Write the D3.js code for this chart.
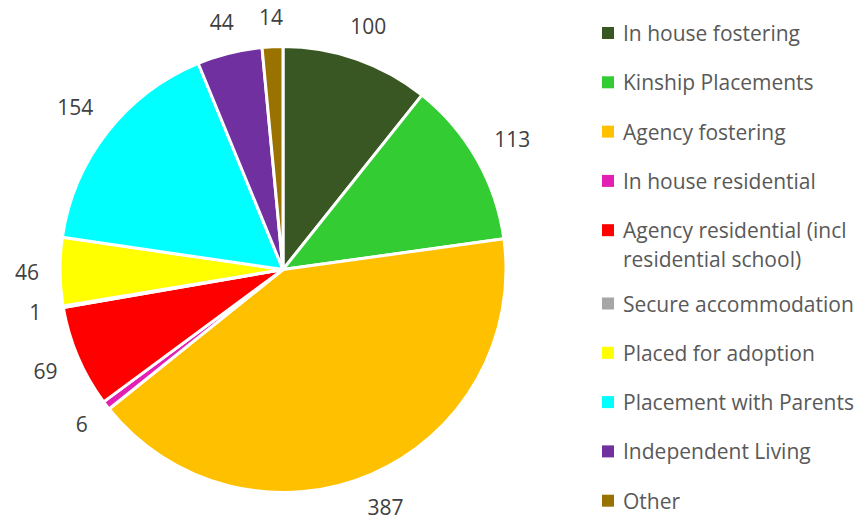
<!DOCTYPE html>
<html>
<head>
<meta charset="utf-8">
<script src="https://cdn.jsdelivr.net/npm/d3@7"></script>
<style>
  body { margin: 0; background: #fff; }
</style>
</head>
<body>
<div id="chart"></div>
<script>
const categories = ["In house fostering", "Kinship Placements", "Agency fostering", "In house residential",
  "Agency residential (incl residential school)", "Secure accommodation", "Placed for adoption",
  "Placement with Parents", "Independent Living", "Other"];
const legendLines = [["In house fostering"], ["Kinship Placements"], ["Agency fostering"], ["In house residential"],
  ["Agency residential (incl", "residential school)"], ["Secure accommodation"], ["Placed for adoption"],
  ["Placement with Parents"], ["Independent Living"], ["Other"]];
const values = [100, 113, 387, 6, 69, 1, 46, 154, 44, 14];
const colors = ["#385723", "#33cc33", "#ffc000", "#e31fb4", "#ff0000", "#a6a6a6", "#ffff00", "#00ffff", "#7030a0", "#9a7200"];

const width = 859, height = 524;
const cx = 283, cy = 269.5, r = 223;
const font = "21px 'Open Sans', sans-serif";

const svg = d3.select("#chart").append("svg")
    .attr("width", width)
    .attr("height", height)
    .attr("viewBox", [0, 0, width, height]);

const data = categories.map((c, i) => ({name: c, value: values[i], color: colors[i]}));

const pie = d3.pie().value(d => d.value).sort(null);
const arc = d3.arc().innerRadius(0).outerRadius(r);

const g = svg.append("g").attr("transform", `translate(${cx},${cy})`);
const arcs = pie(data);

g.selectAll("path")
  .data(arcs)
  .join("path")
    .attr("d", arc)
    .attr("fill", d => d.data.color)
    .attr("stroke", "#fff")
    .attr("stroke-width", 3)
    .attr("stroke-linejoin", "round");

// labels outside the pie, pushed out by half their box in the label direction
const labels = g.selectAll("text.lbl")
  .data(arcs)
  .join("text")
    .attr("class", "lbl")
    .attr("text-anchor", "middle")
    .attr("dominant-baseline", "central")
    .style("font", font)
    .attr("fill", "#404040")
    .text(d => d.data.value);

labels.each(function(d) {
  const bb = this.getBBox();
  const a = (d.startAngle + d.endAngle) / 2;
  const s = Math.sin(a), c = Math.cos(a);
  const dist = r + 21 + Math.abs(s) * bb.width / 2 + Math.abs(c) * 8.5;
  d3.select(this).attr("transform", `translate(${s * dist},${-c * dist})`);
});

// legend
const legend = svg.append("g");
let y = 33;
const rowStep = 49.3, lineStep = 29;
legendLines.forEach((lines, i) => {
  const row = legend.append("g").attr("transform", `translate(0,${y})`);
  row.append("rect")
    .attr("x", 602).attr("y", -6)
    .attr("width", 12).attr("height", 12)
    .attr("fill", colors[i]);
  row.selectAll("text")
    .data(lines)
    .join("text")
      .attr("x", 623)
      .attr("y", (d, j) => j * lineStep)
      .attr("dominant-baseline", "central")
      .style("font", font)
      .attr("fill", "#595959")
      .text(d => d);
  y += rowStep + (lines.length - 1) * lineStep - (lines.length > 1 ? 5 : 0);
});
</script>
</body>
</html>
